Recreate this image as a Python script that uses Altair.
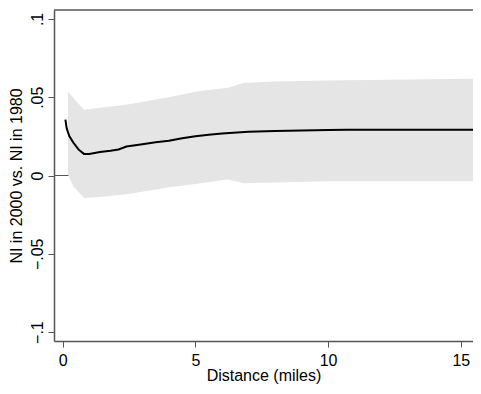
import altair as alt
import pandas as pd

# Point estimate line
line_x = [0.1, 0.15, 0.25, 0.4, 0.6, 0.8, 1.0, 1.4, 1.8, 2.1, 2.4, 3.0, 3.5, 4.0, 4.5,
          5.0, 5.5, 6.0, 7.0, 8.0, 9.0, 10.0, 10.7, 12.0, 14.0, 15.5]
line_y = [0.0357, 0.030, 0.025, 0.021, 0.0165, 0.0138, 0.0138, 0.0150, 0.0158, 0.0166,
          0.0185, 0.0200, 0.0212, 0.0222, 0.0238, 0.0250, 0.0260, 0.0268, 0.0279, 0.0284,
          0.0287, 0.0290, 0.0292, 0.0292, 0.0292, 0.0292]

# Confidence band
band_x = [0.2, 0.4, 0.8, 1.5, 2.5, 3.5, 4.0, 5.0, 5.8, 6.2, 6.5, 6.8, 8.0, 10.0, 13.0, 15.5]
band_hi = [0.0535, 0.0497, 0.042, 0.0435, 0.0455, 0.0485, 0.050, 0.0535, 0.0553, 0.0559,
           0.0575, 0.059, 0.060, 0.0607, 0.0613, 0.0618]
band_lo = [0.0005, -0.007, -0.0143, -0.0135, -0.0118, -0.009, -0.0075, -0.0055, -0.0035,
           -0.0025, -0.0035, -0.005, -0.0045, -0.0037, -0.0036, -0.0036]

x_ticks = [0, 5, 10, 15]
y_ticks = [-0.1, -0.05, 0, 0.05, 0.1]

line_df = pd.DataFrame({"x": line_x, "y": line_y})
band_df = pd.DataFrame({"x": band_x, "hi": band_hi, "lo": band_lo})

FONT = "Liberation Sans"
AX = "#555555"

xscale = alt.Scale(domain=[-0.33, 15.46], nice=False, zero=False)
yscale = alt.Scale(domain=[-0.1057, 0.1057], nice=False, zero=False)

xaxis = alt.Axis(values=x_ticks, title="Distance (miles)", grid=False, tickSize=6,
                 tickColor=AX, domainColor=AX, domainWidth=1.5, tickWidth=1,
                 labelFont=FONT, labelFontSize=16, labelColor="#000000", labelPadding=5,
                 titleFont=FONT, titleFontSize=16, titleFontWeight="normal",
                 titleColor="#000000", titlePadding=-1, labelFlush=False)
yaxis = alt.Axis(values=y_ticks, title="NI in 2000 vs. NI in 1980", grid=False, tickSize=6,
                 tickColor=AX, domainColor=AX, domainWidth=1.5, tickWidth=1,
                 labelFont=FONT, labelFontSize=16, labelColor="#000000",
                 labelAngle=270, labelAlign="center", labelBaseline="bottom", labelPadding=3,
                 labelExpr="replace(format(datum.value, '~g'), '0.', '.')",
                 titleFont=FONT, titleFontSize=16, titleFontWeight="normal",
                 titleColor="#000000", titlePadding=5, labelFlush=False)

zero_rule = alt.Chart(pd.DataFrame({"y": [0.0]})).mark_rule(color=AX, strokeWidth=1.2).encode(
    y=alt.Y("y:Q", scale=yscale, axis=yaxis)
)
top_rule = alt.Chart(pd.DataFrame({"y": [0.0]})).mark_rule(color=AX, strokeWidth=1.5).encode(
    y=alt.value(0)
)
band = alt.Chart(band_df).mark_area(color="#e5e5e5", opacity=1, clip=True).encode(
    x=alt.X("x:Q", scale=xscale, axis=xaxis),
    y=alt.Y("hi:Q", scale=yscale, axis=yaxis),
    y2="lo:Q",
)
line = alt.Chart(line_df).mark_line(color="#000000", strokeWidth=2, clip=True).encode(
    x=alt.X("x:Q", scale=xscale, axis=xaxis),
    y=alt.Y("y:Q", scale=yscale, axis=yaxis),
)

chart = alt.layer(zero_rule, band, line, top_rule).properties(
    width=419, height=331,
    autosize=alt.AutoSizeParams(type="none"),
    padding={"left": 46, "top": 2, "right": 0, "bottom": 44},
    background="white",
).configure_view(stroke=None)

chart.save("out.html", embed_options={"renderer": "svg", "actions": False})
